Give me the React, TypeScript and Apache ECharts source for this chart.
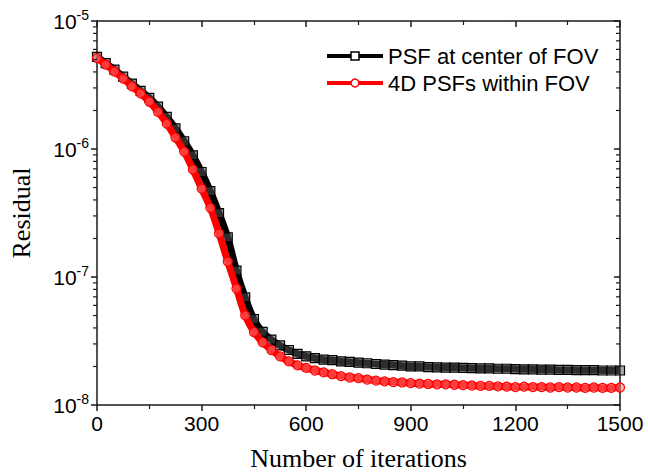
import React, { useEffect, useRef } from "react";
import * as echarts from "echarts";

const iterations = [
  0, 25, 50, 75, 100, 125, 150, 175, 200, 225, 250, 275, 300, 325, 350, 375, 400, 425, 450, 475,
  500, 525, 550, 575, 600, 625, 650, 675, 700, 725, 750, 775, 800, 825, 850, 875, 900, 925, 950, 975,
  1000, 1025, 1050, 1075, 1100, 1125, 1150, 1175, 1200, 1225, 1250, 1275, 1300, 1325, 1350, 1375, 1400,
  1425, 1450, 1475, 1500,
];

const psfCenter = [
  5.25e-6, 4.68e-6, 4.17e-6, 3.67e-6, 3.24e-6, 2.85e-6, 2.51e-6, 2.14e-6, 1.78e-6, 1.45e-6,
  1.15e-6, 8.91e-7, 6.61e-7, 4.68e-7, 3.16e-7, 2.04e-7, 1.12e-7, 6.92e-8, 4.68e-8, 3.72e-8,
  3.24e-8, 2.92e-8, 2.69e-8, 2.51e-8, 2.40e-8, 2.32e-8, 2.26e-8, 2.24e-8, 2.19e-8, 2.17e-8,
  2.14e-8, 2.12e-8, 2.09e-8, 2.07e-8, 2.05e-8, 2.03e-8, 2.0e-8, 2.0e-8, 1.98e-8, 1.97e-8,
  1.96e-8, 1.96e-8, 1.95e-8, 1.94e-8, 1.93e-8, 1.93e-8, 1.92e-8, 1.92e-8, 1.91e-8, 1.9e-8,
  1.9e-8, 1.89e-8, 1.89e-8, 1.88e-8, 1.88e-8, 1.87e-8, 1.87e-8, 1.87e-8, 1.86e-8, 1.86e-8, 1.86e-8,
];

const psf4D = [
  5.13e-6, 4.57e-6, 4.03e-6, 3.55e-6, 3.09e-6, 2.72e-6, 2.34e-6, 1.95e-6, 1.58e-6, 1.23e-6,
  9.55e-7, 6.92e-7, 4.9e-7, 3.47e-7, 2.19e-7, 1.32e-7, 8.13e-8, 5.01e-8, 3.72e-8, 3.09e-8,
  2.69e-8, 2.4e-8, 2.19e-8, 2.04e-8, 1.95e-8, 1.86e-8, 1.8e-8, 1.74e-8, 1.68e-8, 1.64e-8,
  1.62e-8, 1.58e-8, 1.55e-8, 1.53e-8, 1.51e-8, 1.5e-8, 1.48e-8, 1.47e-8, 1.46e-8, 1.45e-8,
  1.45e-8, 1.44e-8, 1.43e-8, 1.42e-8, 1.41e-8, 1.41e-8, 1.4e-8, 1.39e-8, 1.38e-8, 1.39e-8,
  1.38e-8, 1.38e-8, 1.37e-8, 1.38e-8, 1.37e-8, 1.37e-8, 1.36e-8, 1.37e-8, 1.36e-8, 1.36e-8, 1.37e-8,
];

const seriesNames = ["PSF at center of FOV", "4D PSFs within FOV"];

const yMinorTicks = [
  2e-8, 3e-8, 4e-8, 5e-8, 6e-8, 7e-8, 8e-8, 9e-8,
  2e-7, 3e-7, 4e-7, 5e-7, 6e-7, 7e-7, 8e-7, 9e-7,
  2e-6, 3e-6, 4e-6, 5e-6, 6e-6, 7e-6, 8e-6, 9e-6,
];

const X_MIN = 0;
const X_MAX = 1500;
const Y_MIN = 1e-8;
const Y_MAX = 1e-5;

export default function App() {
  const ref = useRef<HTMLDivElement>(null);

  useEffect(() => {
    if (!ref.current) return;
    const chart = echarts.init(ref.current, null, { renderer: "svg" });
    const axisColor = "#1a1a1a";
    const sans = "Liberation Sans";
    const serif = "Liberation Serif";

    const xAxisCommon = {
      type: "value",
      min: X_MIN,
      max: X_MAX,
      interval: 300,
      splitLine: { show: false },
      axisLine: { show: true, onZero: false, lineStyle: { color: axisColor, width: 1.5 } },
      minorTick: { show: true, splitNumber: 2, length: 4, lineStyle: { color: axisColor, width: 1.2 } },
      minorSplitLine: { show: false },
    };
    const yAxisCommon = {
      type: "log",
      logBase: 10,
      min: Y_MIN,
      max: Y_MAX,
      splitLine: { show: false },
      axisLine: { show: true, onZero: false, lineStyle: { color: axisColor, width: 1.5 } },
    };

    const option: any = {
      animation: false,
      backgroundColor: "#fff",
      grid: { left: 97, right: 28, top: 21, bottom: 68, containLabel: false },
      legend: {
        orient: "vertical",
        left: 320,
        top: 40,
        itemWidth: 56,
        itemHeight: 10,
        itemGap: 5,
        data: seriesNames,
        textStyle: { fontFamily: sans, fontSize: 22, color: "#000" },
        lineStyle: { width: 4 },
        itemStyle: { color: "#fff", borderWidth: 1.5 },
      },
      xAxis: [
        {
          ...xAxisCommon,
          position: "bottom",
          name: "Number of iterations",
          nameLocation: "middle",
          nameGap: 40,
          nameTextStyle: { fontFamily: serif, fontSize: 26, color: "#000" },
          axisTick: { show: true, length: 6, lineStyle: { color: axisColor, width: 1.5 } },
          axisLabel: {
            fontFamily: sans,
            fontSize: 21,
            color: "#000",
            margin: 8,
            formatter: (v: number) => String(v),
          },
        },
        {
          ...xAxisCommon,
          position: "top",
          axisTick: { show: true, inside: true, length: 6, lineStyle: { color: axisColor, width: 1.5 } },
          minorTick: { show: true, splitNumber: 2, length: 4, lineStyle: { color: axisColor, width: 1.2 } },
          axisLabel: { show: false },
        },
      ],
      yAxis: [
        {
          ...yAxisCommon,
          position: "left",
          name: "Residual",
          nameLocation: "middle",
          nameGap: 63,
          nameTextStyle: { fontFamily: serif, fontSize: 26, color: "#000" },
          axisTick: { show: true, length: 6, lineStyle: { color: axisColor, width: 1.5 } },
          axisLabel: {
            margin: 8,
            formatter: (v: number) => `{b|10}{s|${Math.round(Math.log10(v))}}`,
            rich: {
              b: { fontFamily: sans, fontSize: 21, color: "#000", lineHeight: 26 },
              s: { fontFamily: sans, fontSize: 14, color: "#000", lineHeight: 14, verticalAlign: "top" },
            },
          },
        },
        {
          ...yAxisCommon,
          position: "right",
          axisTick: { show: true, inside: true, length: 6, lineStyle: { color: axisColor, width: 1.5 } },
          axisLabel: { show: false },
        },
      ],
      series: [
        {
          name: seriesNames[0],
          type: "line",
          xAxisIndex: 0,
          yAxisIndex: 0,
          data: iterations.map((it, i) => [it, psfCenter[i]]),
          symbol: "rect",
          symbolSize: 9,
          showSymbol: true,
          smooth: 0.3,
          lineStyle: { color: "#000", width: 7 },
          itemStyle: { color: "rgba(90,90,90,0.5)", borderColor: "#000", borderWidth: 1.2 },
          z: 3,
        },
        {
          name: seriesNames[1],
          type: "line",
          xAxisIndex: 0,
          yAxisIndex: 0,
          data: iterations.map((it, i) => [it, psf4D[i]]),
          symbol: "circle",
          symbolSize: 9,
          showSymbol: true,
          smooth: 0.3,
          lineStyle: { color: "#ff0000", width: 7 },
          itemStyle: { color: "rgba(255,120,120,0.5)", borderColor: "#ff0000", borderWidth: 1.2 },
          z: 4,
        },
        {
          name: "yMinorTicks",
          type: "custom",
          xAxisIndex: 0,
          yAxisIndex: 0,
          silent: true,
          clip: false,
          z: 10,
          data: yMinorTicks.map((v) => [X_MIN, v]),
          renderItem: (_params: any, api: any) => {
            const v = api.value(1);
            const l = api.coord([X_MIN, v]);
            const r = api.coord([X_MAX, v]);
            const style = { stroke: axisColor, lineWidth: 1.2 };
            return {
              type: "group",
              children: [
                { type: "line", shape: { x1: l[0] - 4, y1: l[1], x2: l[0], y2: l[1] }, style },
                { type: "line", shape: { x1: r[0] - 4, y1: r[1], x2: r[0], y2: r[1] }, style },
              ],
            };
          },
        },
      ],
    };

    chart.setOption(option);
    return () => chart.dispose();
  }, []);

  return (
    <div
      ref={ref}
      style={{ position: "fixed", left: 0, top: 0, width: 648, height: 476, background: "#fff" }}
    />
  );
}
